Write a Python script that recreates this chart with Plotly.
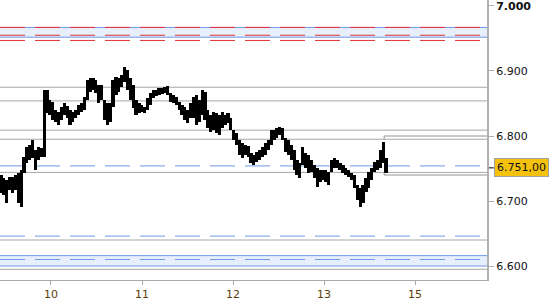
import numpy as np
import plotly.graph_objects as go

# ---- data (index points) ----
highs = [6740,6735,6732,6737,6737,6740,6743,6748,6768,6783,
         6786,6794,6778,6783,6782,6871,6871,6855,6852,6840,
         6837,6845,6851,6846,6840,6837,6840,6848,6851,6860,
         6886,6889,6889,6886,6878,6878,6855,6851,6851,6886,
         6891,6889,6894,6906,6901,6889,6878,6855,6851,6848,
         6845,6858,6866,6871,6871,6874,6874,6875,6877,6866,
         6863,6860,6852,6848,6845,6840,6851,6860,6863,6855,
         6871,6868,6840,6832,6837,6835,6832,6837,6832,6835,
         6828,6809,6805,6794,6789,6786,6785,6774,6771,6775,
         6778,6783,6789,6794,6809,6809,6812,6814,6812,6797,
         6794,6786,6778,6763,6758,6783,6774,6771,6763,6755,
         6751,6748,6748,6748,6745,6763,6766,6763,6758,6755,
         6751,6748,6743,6740,6725,6720,6725,6735,6745,6751,
         6760,6763,6778,6791,6766]
lows = [6712,6709,6697,6717,6712,6717,6697,6691,6743,6758,
        6763,6766,6748,6763,6768,6768,6835,6832,6825,6822,
        6817,6825,6832,6828,6817,6822,6828,6832,6837,6840,
        6855,6868,6871,6866,6851,6855,6825,6817,6822,6845,
        6863,6868,6875,6883,6871,6855,6843,6832,6835,6837,
        6835,6840,6848,6858,6862,6863,6865,6866,6863,6852,
        6851,6848,6840,6832,6825,6820,6828,6828,6817,6822,
        6832,6825,6812,6806,6809,6805,6802,6812,6817,6820,
        6809,6794,6786,6771,6766,6771,6768,6758,6755,6760,
        6763,6768,6771,6778,6786,6794,6797,6802,6794,6775,
        6771,6763,6748,6740,6735,6755,6751,6743,6745,6735,
        6722,6729,6732,6729,6725,6745,6751,6751,6748,6743,
        6740,6737,6732,6720,6702,6691,6697,6714,6720,6732,
        6745,6748,6751,6758,6743]

session_first = -0.549   # first bar time (session index)
session_last = 3.681     # last bar time (session index)

day_ticks = [0, 1, 2, 3, 4]
day_labels = ["10", "11", "12", "13", "15"]

y_ticks = [7000, 6900, 6800, 6700, 6600]
y_labels = ["<b>7.000</b>", "6.900", "6.800", "6.700", "6.600"]

last_price = 6751
last_label = "6.751,00"
last_high = 6800
last_low = 6740
marker_start = 3.66

red_dashed_levels = [6967, 6955, 6947]
blue_solid_levels = [6967, 6952, 6616, 6600]
blue_dashed_levels = [6754, 6646, 6610]
gray_levels = [6875, 6854, 6809, 6795, 6744, 6640, 6595]
bands = [(6952, 6967), (6600, 6616)]

x_range = [-0.56, 4.79]
y_range = [6578.5, 7009.2]

# ---- figure ----
n = len(highs)
times = np.linspace(session_first, session_last, n)
step = (session_last - session_first) / (n - 1)
h = np.array(highs)
l = np.array(lows)

fig = go.Figure()

shapes = []
for lo, hi in bands:
    shapes.append(dict(type="rect", xref="paper", yref="y", x0=0, x1=1, y0=lo, y1=hi,
                       fillcolor="#e7eefc", line=dict(width=0), layer="below"))
for v in gray_levels:
    shapes.append(dict(type="line", xref="paper", yref="y", x0=0, x1=1, y0=v, y1=v,
                       line=dict(color="#a6a6a6", width=1), layer="below"))
for v in blue_solid_levels:
    shapes.append(dict(type="line", xref="paper", yref="y", x0=0, x1=1, y0=v, y1=v,
                       line=dict(color="#6f98ea", width=1), layer="below"))
for v in blue_dashed_levels:
    shapes.append(dict(type="line", xref="paper", yref="y", x0=0, x1=1, y0=v, y1=v,
                       line=dict(color="#6f98ea", width=1, dash="25px,10px"), layer="below"))
for v in red_dashed_levels:
    shapes.append(dict(type="line", xref="paper", yref="y", x0=0, x1=1, y0=v, y1=v,
                       line=dict(color="#e03232", width=1, dash="25px,10px"), layer="below"))

# last bar high / low markers
for lvl, ref in [(last_high, 6795), (last_low, 6744)]:
    shapes.append(dict(type="line", xref="x", yref="y", x0=marker_start, x1=x_range[1],
                       y0=lvl, y1=lvl, line=dict(color="#909090", width=1)))
    shapes.append(dict(type="line", xref="x", yref="y", x0=marker_start, x1=marker_start,
                       y0=lvl, y1=ref, line=dict(color="#909090", width=1)))

# current price tick on axis
shapes.append(dict(type="line", xref="paper", yref="y", x0=1.004, x1=1.014,
                   y0=last_price, y1=last_price, line=dict(color="black", width=1)))

fig.add_trace(go.Bar(x=times, y=h - l, base=l, width=step * 1.1,
                     marker=dict(color="black", line=dict(width=0)),
                     hoverinfo="skip", showlegend=False))

fig.add_annotation(xref="paper", yref="y", x=1.0145, y=last_price, xanchor="left",
                   yanchor="middle", text=last_label, showarrow=False,
                   font=dict(family="DejaVu Sans", size=11, color="#111"),
                   bgcolor="#f4c20d", bordercolor="#a0a0a0", borderwidth=1, borderpad=2)

fig.update_layout(
    width=550, height=300,
    margin=dict(l=0, r=63, t=0, b=20),
    paper_bgcolor="white", plot_bgcolor="white",
    shapes=shapes, bargap=0,
    font=dict(family="DejaVu Sans", size=11, color="#111"),
)
fig.update_xaxes(range=x_range, tickvals=day_ticks, ticktext=day_labels,
                 showgrid=False, zeroline=False, showline=True, linecolor="#aaaaaa",
                 linewidth=1, ticks="outside", ticklen=4, tickcolor="#aaaaaa",
                 tickfont=dict(family="DejaVu Sans", size=11, color="#5c3d0a"))
fig.update_yaxes(range=y_range, side="right", tickvals=y_ticks, ticktext=y_labels,
                 showgrid=False, zeroline=False, showline=True, linecolor="#b0b0b0",
                 linewidth=2, ticks="outside", ticklen=5, tickcolor="#b0b0b0",
                 ticklabeloverflow="allow",
                 tickfont=dict(family="DejaVu Sans", size=11, color="#111"))

fig.write_html("out.html", config={"displayModeBar": False})
